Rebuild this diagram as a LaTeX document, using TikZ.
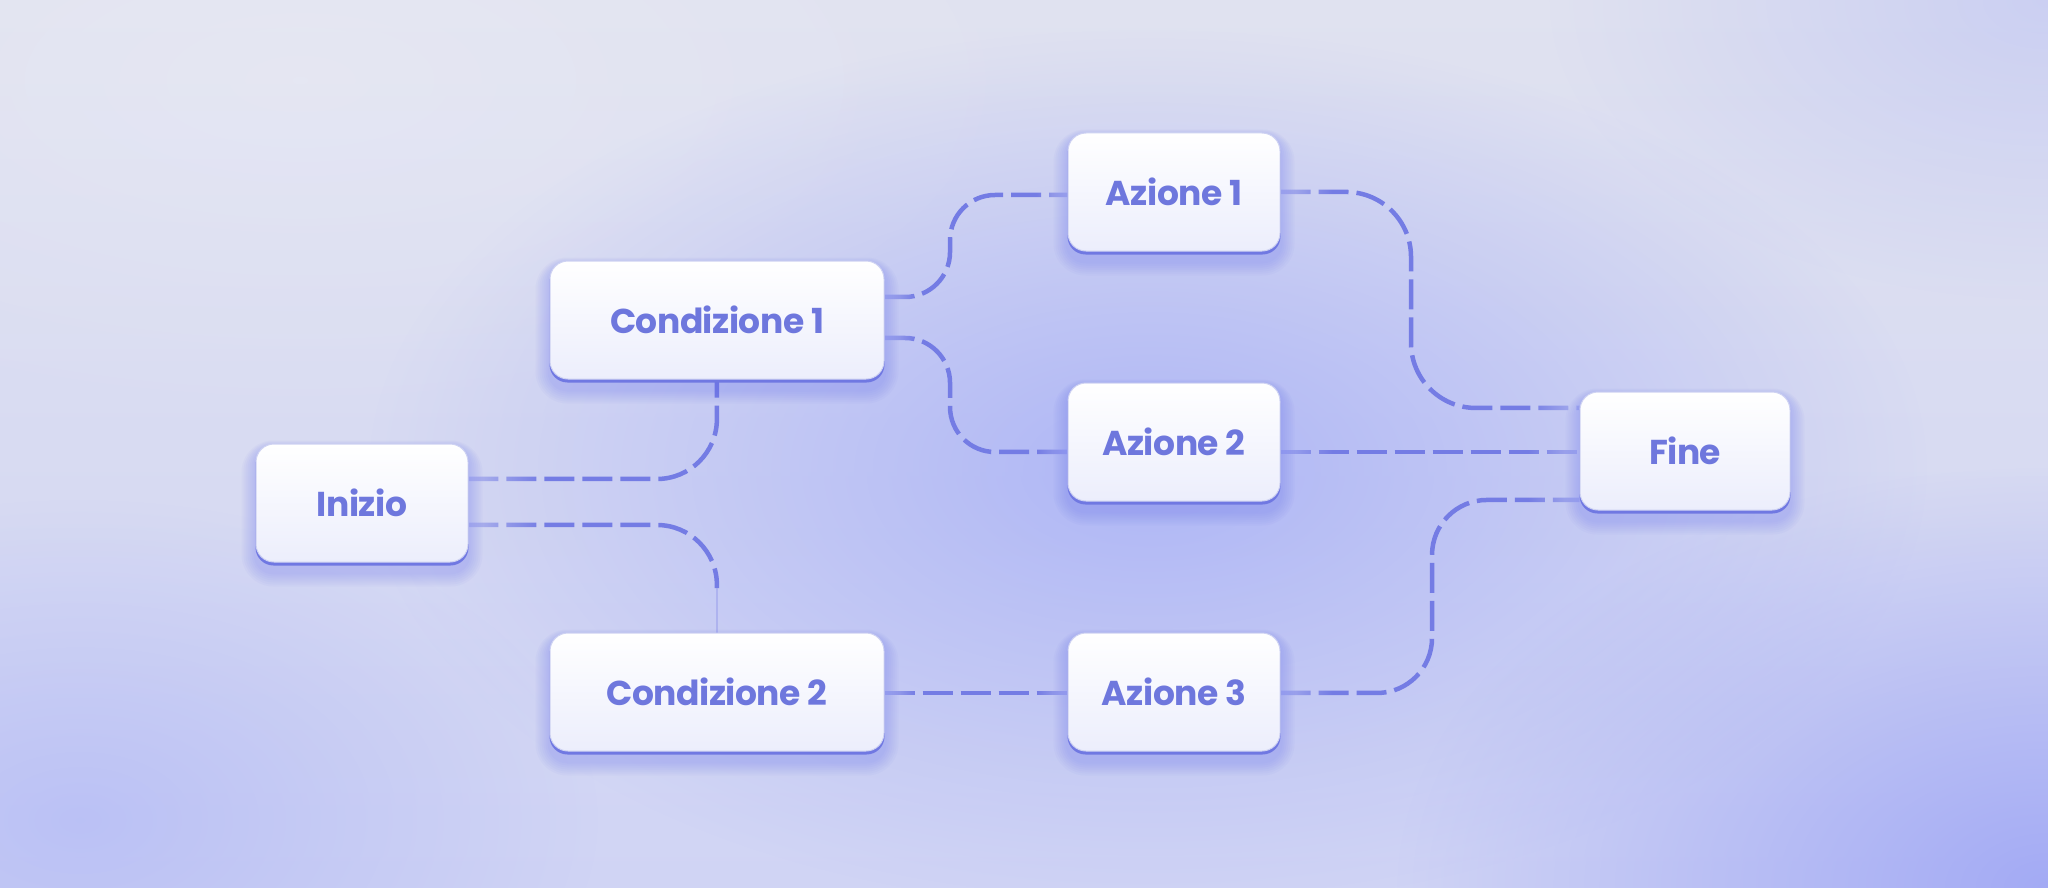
\documentclass[tikz,border=0pt]{standalone}
\usepackage{fontspec}
\newfontfamily\pop{Poppins}[BoldFont={Poppins Bold}, LetterSpace=-1.5]
\usetikzlibrary{fadings}
\pgfdeclarelayer{bglayer}
\pgfdeclarelayer{shlayer}
\pgfsetlayers{bglayer,shlayer,main}
\definecolor{bgtop}{RGB}{224,226,240}
\definecolor{bgbot}{RGB}{208,212,244}
\definecolor{glowA}{RGB}{172,180,246}
\definecolor{glowB}{RGB}{155,163,245}
\definecolor{linec}{RGB}{116,124,228}
\definecolor{textc}{RGB}{110,119,221}
\definecolor{edgec}{RGB}{112,120,226}
\definecolor{shadc}{RGB}{105,115,240}
\definecolor{boxbot}{RGB}{236,238,252}
\definecolor{boxline}{RGB}{206,210,242}
\definecolor{fdark}{gray}{0.3}
\tikzfading[name=softglow, inner color=transparent!0, outer color=transparent!100]
\pgfdeclarehorizontalshading{endsfadeshade}{100bp}{color(0bp)=(fdark); color(25bp)=(fdark); color(34bp)=(white); color(66bp)=(white); color(75bp)=(fdark); color(100bp)=(fdark)}
\pgfdeclarefading{fadeboth}{\pgfuseshading{endsfadeshade}}
\pgfdeclarehorizontalshading{leftfadeshade}{100bp}{color(0bp)=(fdark); color(25bp)=(fdark); color(40bp)=(white); color(100bp)=(white)}
\pgfdeclarefading{fadeleft}{\pgfuseshading{leftfadeshade}}
\newcommand\glowbox[1]{%
  \foreach \k in {1,...,7}{%
    \fill[shadc, opacity=0.045, rounded corners=18pt+\k*2pt]
      ([xshift=-\k*2pt, yshift=-10pt-\k*2pt]#1.south west) rectangle
      ([xshift=\k*2pt, yshift=-4pt+\k*1pt]#1.north east);}%
  \fill[edgec, rounded corners=18pt] ([yshift=-3pt]#1.south west) rectangle ([yshift=-3pt]#1.north east);}
\begin{document}
\begin{tikzpicture}[x=1pt,y=-1pt,
  box/.style={rectangle, rounded corners=18pt, minimum height=118pt, inner sep=0pt,
    top color=white, bottom color=boxbot, draw=boxline, line width=1pt,
    font=\pop\bfseries\fontsize{34.5}{40}\selectfont, text=textc},
  wbox/.style={box, minimum width=212pt},
  cbox/.style={box, minimum width=334pt},
  conn/.style={draw=linec, line width=4.5pt, dash pattern=on 30pt off 8pt, rounded corners=#1, path fading=fadeboth},
  conn/.default=50pt,
  lconn/.style={conn=#1, path fading=fadeleft},
  faint/.style={draw=linec!70!white, line width=2pt, opacity=0.6}
]
\useasboundingbox (0,0) rectangle (2048,888);
% nodes
\node[wbox] (ini) at (362,503) {Inizio};
\node[cbox] (c1) at (717,320) {Condizione 1};
\node[cbox] (c2) at (717,692) {Condizione 2};
\node[wbox] (a1) at (1174,192) {Azione 1};
\node[wbox] (a2) at (1174,442) {Azione 2};
\node[wbox] (a3) at (1174,692) {Azione 3};
\node[wbox, minimum width=210pt] (fine) at (1685,451) {Fine};
% background
\begin{pgfonlayer}{bglayer}
  \begin{scope}
    \clip (0,0) rectangle (2048,888);
    \shade[top color=bgtop, bottom color=bgbot] (0,0) rectangle (2048,888);
    \fill[white, path fading=softglow, opacity=0.2] (300,80) ellipse (800 and 360);
    \fill[glowA, path fading=softglow, opacity=0.95] (1150,470) ellipse (780 and 440);
    \fill[glowB, path fading=softglow, opacity=0.85] (2048,888) ellipse (650 and 420);
    \fill[glowA, path fading=softglow, opacity=0.6] (80,820) ellipse (520 and 320);
    \fill[glowA, path fading=softglow, opacity=0.4] (2048,0) ellipse (500 and 300);
  \end{scope}
\end{pgfonlayer}
% connectors and shadows
\begin{pgfonlayer}{shlayer}
  \draw[lconn=60pt] (ini.east |- 0,479) -- (c1.south |- 0,479) -- (c1.south);
  \draw[lconn=60pt] (ini.east |- 0,525) -- (c2.north |- 0,525) -- (c2.north |- 0,588) coordinate (c2in);
  \draw[faint] (c2in) -- (c2.north);
  \draw[conn=45pt] (c1.east |- 0,297) -- (950,297) -- (950,195) -- (a1.west |- 0,195);
  \draw[conn=45pt] (c1.east |- 0,338) -- (950,338) -- (950,452) -- (a2.west |- 0,452);
  \draw[conn] (c2.east |- 0,693) -- (a3.west |- 0,693);
  \draw[conn=65pt] (a1.east |- 0,192) -- (1411,192) -- (1411,408) -- (fine.west |- 0,408);
  \draw[conn] (a2.east |- 0,452) -- (fine.west |- 0,452);
  \draw[conn=55pt] (a3.east |- 0,693) -- (1432,693) -- (1432,500) -- (fine.west |- 0,500);
  \glowbox{ini}\glowbox{c1}\glowbox{c2}\glowbox{a1}\glowbox{a2}\glowbox{a3}\glowbox{fine}
\end{pgfonlayer}
\end{tikzpicture}
\end{document}
